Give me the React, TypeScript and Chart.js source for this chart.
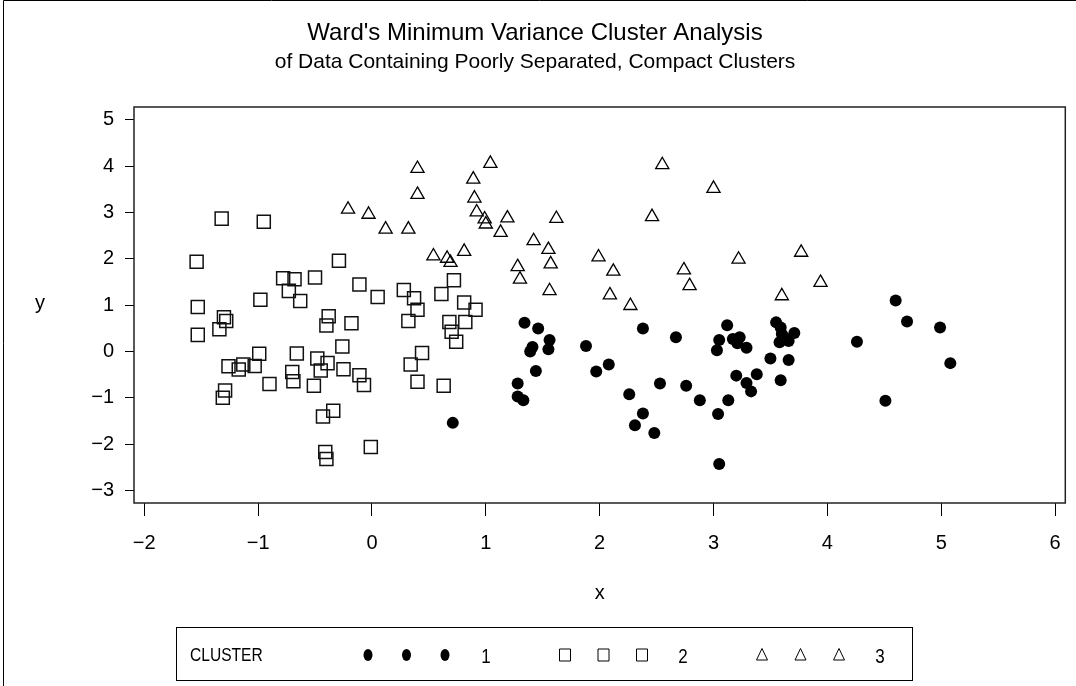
import React, { useEffect, useRef } from 'react';
import { Chart, registerables } from 'chart.js';

Chart.register(...registerables);

// ---------- data ----------
const xTickValues = [-2, -1, 0, 1, 2, 3, 4, 5, 6];
const yTickValues = [-3, -2, -1, 0, 1, 2, 3, 4, 5];
const clusterLabels = ['1', '2', '3'];
const legendTitle = 'CLUSTER';

const cluster1: number[][] = [
  [0.71, -1.54], [1.34, 0.62], [1.46, 0.5], [1.56, 0.25], [1.55, 0.05], [1.41, 0.1], [1.39, 0.0],
  [1.44, -0.42], [1.28, -0.69], [1.28, -0.97], [1.33, -1.05], [1.88, 0.12], [1.97, -0.43],
  [2.08, -0.28], [2.38, 0.5], [2.67, 0.31], [2.26, -0.92], [2.53, -0.69], [2.76, -0.74],
  [2.88, -1.05], [2.38, -1.34], [2.31, -1.59], [2.48, -1.76], [4.6, 1.1], [4.7, 0.65],
  [4.99, 0.52], [5.08, -0.25], [4.26, 0.21], [4.51, -1.06], [3.12, 0.57], [3.05, 0.25],
  [3.03, 0.03], [3.17, 0.27], [3.23, 0.31], [3.21, 0.18], [3.29, 0.08], [3.55, 0.63],
  [3.59, 0.52], [3.6, 0.38], [3.58, 0.2], [3.66, 0.23], [3.71, 0.4], [3.62, 0.31],
  [3.5, -0.15], [3.66, -0.18], [3.38, -0.49], [3.2, -0.52], [3.29, -0.68], [3.33, -0.86],
  [3.59, -0.62], [3.13, -1.05], [3.04, -1.35], [3.05, -2.43],
];

const cluster2: number[][] = [
  [-1.32, 2.87], [-0.95, 2.8], [-1.54, 1.94], [-0.29, 1.96], [-0.78, 1.58], [-0.68, 1.56],
  [-0.5, 1.6], [-0.73, 1.31], [-0.11, 1.45], [0.05, 1.18], [0.28, 1.33], [0.37, 1.15],
  [-1.53, 0.96], [-0.98, 1.12], [-0.63, 1.09], [0.4, 0.9], [0.32, 0.66], [-1.3, 0.74],
  [-1.28, 0.66], [-1.34, 0.48], [-1.53, 0.36], [-0.38, 0.76], [-0.4, 0.56], [-0.18, 0.61],
  [-0.26, 0.11], [-0.99, -0.05], [-0.66, -0.04], [-0.48, -0.15], [-0.39, -0.25], [-1.13, -0.28],
  [-1.26, -0.32], [-1.03, -0.31], [-1.17, -0.39], [-0.45, -0.41], [-0.25, -0.38], [-0.7, -0.44],
  [-0.69, -0.64], [-0.51, -0.74], [-0.11, -0.51], [-0.07, -0.72], [-0.9, -0.7], [-1.29, -0.84],
  [-1.31, -1.0], [-0.34, -1.28], [-0.43, -1.4], [-0.41, -2.17], [-0.4, -2.32], [-0.01, -2.06],
  [0.34, -0.28], [0.44, -0.03], [0.4, -0.65], [0.72, 1.54], [0.61, 1.24], [0.81, 1.06],
  [0.91, 0.9], [0.68, 0.64], [0.82, 0.64], [0.7, 0.43], [0.74, 0.21], [0.63, -0.74],
];

const cluster3: number[][] = [
  [0.4, 3.95], [0.4, 3.39], [-0.21, 3.07], [-0.03, 2.96], [0.12, 2.64], [0.32, 2.64],
  [1.04, 4.06], [0.89, 3.72], [0.9, 3.31], [0.92, 3.01], [0.99, 2.86], [1.0, 2.75],
  [1.19, 2.88], [1.13, 2.57], [1.62, 2.87], [1.42, 2.39], [1.55, 2.2], [1.57, 1.89],
  [1.28, 1.83], [1.3, 1.56], [1.56, 1.31], [0.81, 2.16], [0.54, 2.06], [0.66, 2.01],
  [0.69, 1.92], [1.99, 2.04], [2.12, 1.73], [2.09, 1.22], [2.27, 0.99], [2.55, 4.03],
  [2.46, 2.91], [3.0, 3.52], [2.74, 1.76], [2.79, 1.42], [3.22, 1.99], [3.77, 2.14],
  [3.94, 1.49], [3.6, 1.2],
];

// ---------- helpers ----------
const toXY = (pts: number[][]) => pts.map(([x, y]) => ({ x, y }));
const fmt = (v: number) => (v < 0 ? '\u2212' + Math.abs(v) : String(v));
const FONT = "Arial, 'Liberation Sans', Helvetica, sans-serif";

// draw text horizontally condensed (SAS-like narrow font)
const narrowText = (ctx: any, text: string, x: number, y: number, size: number, squeeze: number, align: string) => {
  ctx.save();
  ctx.font = `${size}px ${FONT}`;
  ctx.textBaseline = 'middle';
  ctx.textAlign = align;
  ctx.translate(x, y);
  ctx.scale(squeeze, 1);
  ctx.fillText(text, 0, 0);
  ctx.restore();
};

const framePlugin = {
  id: 'sasFrame',
  afterDraw(chart: any) {
    const { ctx, chartArea: a } = chart;
    ctx.save();
    // outer page border (top + left)
    ctx.strokeStyle = '#000';
    ctx.lineWidth = 1;
    ctx.beginPath();
    ctx.moveTo(3.5, 686);
    ctx.lineTo(3.5, 0.5);
    ctx.lineTo(1076, 0.5);
    ctx.stroke();

    // plot frame
    ctx.strokeStyle = '#222';
    ctx.lineWidth = 1.5;
    ctx.strokeRect(a.left, a.top, a.right - a.left, a.bottom - a.top);

    // upright y-axis title
    ctx.fillStyle = '#000';
    ctx.font = `20px ${FONT}`;
    ctx.textAlign = 'center';
    ctx.textBaseline = 'middle';
    ctx.fillText('y', 40, 303);

    // legend box
    ctx.lineWidth = 1;
    ctx.strokeStyle = '#000';
    ctx.strokeRect(176.5, 627.5, 736, 53);
    narrowText(ctx, legendTitle, 190, 656, 19, 0.82, 'left');

    const styles = ['dot', 'square', 'triangle'];
    const groupStart = [368, 565, 762];
    const ly = 655;
    styles.forEach((st, gi) => {
      for (let k = 0; k < 3; k++) {
        const cx = groupStart[gi] + k * 38.5;
        ctx.beginPath();
        if (st === 'dot') {
          ctx.ellipse(cx, ly, 4.5, 6, 0, 0, Math.PI * 2);
          ctx.fill();
        } else if (st === 'square') {
          ctx.rect(cx - 5.5, ly - 6, 11, 12);
          ctx.stroke();
        } else {
          ctx.moveTo(cx, ly - 6.5);
          ctx.lineTo(cx + 5.5, ly + 5);
          ctx.lineTo(cx - 5.5, ly + 5);
          ctx.closePath();
          ctx.stroke();
        }
      }
      narrowText(ctx, clusterLabels[gi], groupStart[gi] + 118, 657, 20, 0.85, 'center');
    });
    ctx.restore();
  },
};

export default function App() {
  const canvasRef = useRef<HTMLCanvasElement | null>(null);

  useEffect(() => {
    const canvas = canvasRef.current;
    if (!canvas) return;
    const chart = new Chart(canvas, {
      type: 'scatter',
      data: {
        datasets: [
          {
            label: clusterLabels[0],
            data: toXY(cluster1),
            pointStyle: 'circle',
            pointRadius: 6,
            pointBackgroundColor: '#000',
            pointBorderColor: '#000',
            pointBorderWidth: 0,
          },
          {
            label: clusterLabels[1],
            data: toXY(cluster2),
            pointStyle: 'rect',
            pointRadius: 9.2,
            pointBackgroundColor: 'rgba(0,0,0,0)',
            pointBorderColor: '#111',
            pointBorderWidth: 1.5,
          },
          {
            label: clusterLabels[2],
            data: toXY(cluster3),
            pointStyle: 'triangle',
            pointRadius: 7.6,
            pointBackgroundColor: 'rgba(0,0,0,0)',
            pointBorderColor: '#000',
            pointBorderWidth: 1.3,
          },
        ],
      },
      options: {
        animation: false,
        responsive: false,
        devicePixelRatio: 1,
        layout: { padding: { left: 0, right: 6, top: 0, bottom: 73 } },
        plugins: {
          legend: { display: false },
          tooltip: { enabled: false },
          title: {
            display: true,
            text: "Ward's Minimum Variance Cluster Analysis",
            color: '#000',
            font: { family: FONT, size: 24, weight: 'normal' },
            padding: { top: 19.1, bottom: 1.5 },
          },
          subtitle: {
            display: true,
            text: 'of Data Containing Poorly Separated, Compact Clusters',
            color: '#000',
            font: { family: FONT, size: 21, weight: 'normal' },
            padding: { top: 0, bottom: 32.4 },
          },
        },
        scales: {
          x: {
            type: 'linear',
            min: -2.09,
            max: 6.09,
            afterBuildTicks: (s: any) => {
              s.ticks = xTickValues.map((v) => ({ value: v }));
            },
            afterFit: (s: any) => {
              s.height = 110;
            },
            border: { display: false },
            grid: { display: true, drawOnChartArea: false, drawTicks: true, tickLength: 13, color: '#000', lineWidth: 1 },
            ticks: {
              color: '#000',
              padding: 15,
              maxRotation: 0,
              autoSkip: false,
              font: { family: FONT, size: 20 },
              callback: (v: any) => fmt(Number(v)),
            },
            title: {
              display: true,
              text: 'x',
              color: '#000',
              font: { family: FONT, size: 20 },
              padding: { top: 0, bottom: 8 },
            },
          },
          y: {
            type: 'linear',
            min: -3.27,
            max: 5.28,
            afterBuildTicks: (s: any) => {
              s.ticks = yTickValues.map((v) => ({ value: v }));
            },
            afterFit: (s: any) => {
              s.width = 134;
            },
            border: { display: false },
            grid: { display: true, drawOnChartArea: false, drawTicks: true, tickLength: 9, color: '#000', lineWidth: 1 },
            ticks: {
              color: '#000',
              padding: 11,
              autoSkip: false,
              font: { family: FONT, size: 20 },
              callback: (v: any) => fmt(Number(v)),
            },
            title: { display: false },
          },
        },
      },
      plugins: [framePlugin],
    } as any);
    return () => chart.destroy();
  }, []);

  return (
    <div style={{ position: 'fixed', left: 0, top: 0, width: 1076, height: 686, background: '#fff' }}>
      <canvas ref={canvasRef} width={1076} height={686} style={{ display: 'block' }} />
    </div>
  );
}
